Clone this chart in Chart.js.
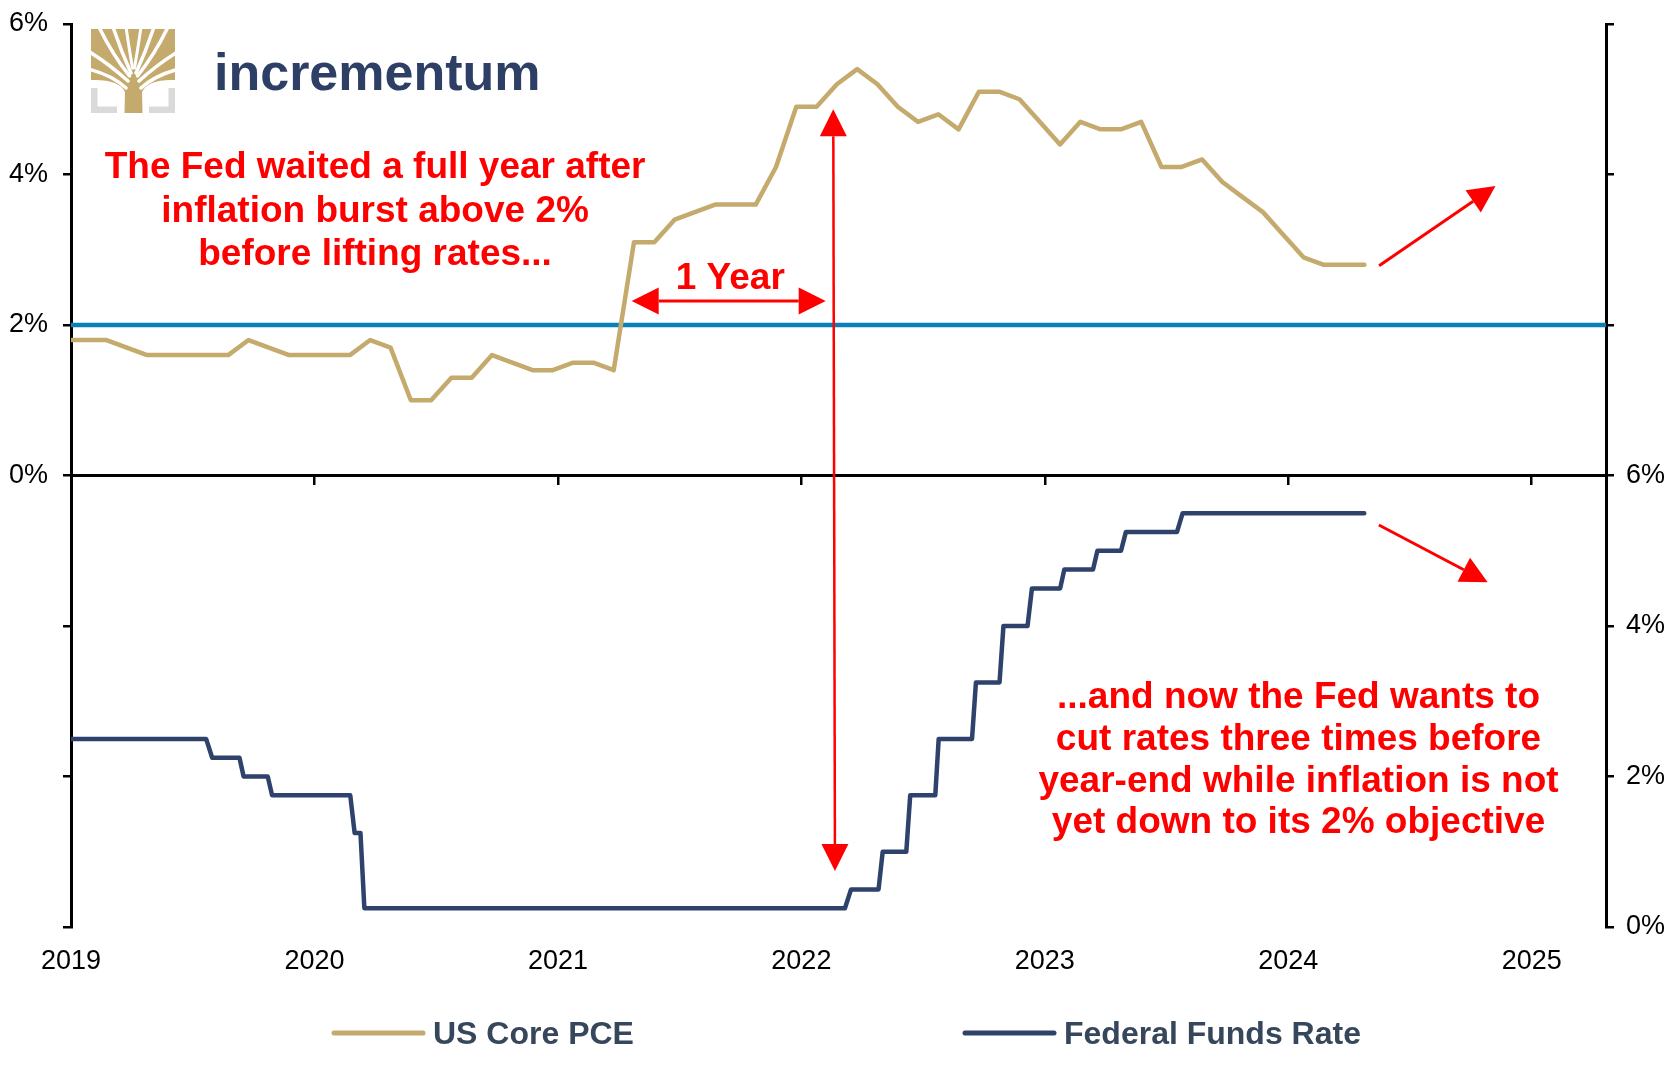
<!DOCTYPE html>
<html lang="en">
<head>
<meta charset="UTF-8">
<title>US Core PCE vs Federal Funds Rate</title>
<script src="https://cdn.jsdelivr.net/npm/chart.js"></script>
<style>
    html, body { margin: 0; padding: 0; background: #fff; }
    canvas { display: block; }
</style>
</head>
<body>
<canvas id="chart" width="1677" height="1066"></canvas>
<script>
    // ---- data ----
    const yearTicks = [2019, 2020, 2021, 2022, 2023, 2024, 2025];

    // US core PCE, y/y in %, monthly from Dec 2018 to Apr 2024
    const pceFirstMonth = [2018, 12];
    const pceValues = [
        1.8,
        1.8, 1.8, 1.7, 1.6, 1.6, 1.6, 1.6, 1.6, 1.8, 1.7, 1.6, 1.6,   // 2019
        1.6, 1.6, 1.8, 1.7, 1.0, 1.0, 1.3, 1.3, 1.6, 1.5, 1.4, 1.4,   // 2020
        1.5, 1.5, 1.4, 3.1, 3.1, 3.4, 3.5, 3.6, 3.6, 3.6, 4.1, 4.9,   // 2021
        4.9, 5.2, 5.4, 5.2, 4.9, 4.7, 4.8, 4.6, 5.1, 5.1, 5.0, 4.7,   // 2022
        4.4, 4.7, 4.6, 4.6, 4.7, 4.1, 4.1, 4.2, 3.9, 3.7, 3.5, 3.2,   // 2023
        2.9, 2.8, 2.8, 2.8                                            // 2024
    ];

    // Fed funds target (upper bound), in %, at the dates around each move (decimal years)
    const ffrTimes = [
        2019.000, 2019.555, 2019.580, 2019.692, 2019.709, 2019.808, 2019.826,
        2020.147, 2020.165, 2020.189, 2020.205,
        2022.179, 2022.204, 2022.317, 2022.334, 2022.431, 2022.447, 2022.550, 2022.564,
        2022.701, 2022.717, 2022.814, 2022.830, 2022.929, 2022.947,
        2023.063, 2023.080, 2023.198, 2023.216, 2023.313, 2023.333, 2023.543, 2023.566,
        2024.312
    ];
    const ffrValues = [
        2.5, 2.5, 2.25, 2.25, 2.0, 2.0, 1.75,
        1.75, 1.25, 1.25, 0.25,
        0.25, 0.5, 0.5, 1.0, 1.0, 1.75, 1.75, 2.5,
        2.5, 3.25, 3.25, 4.0, 4.0, 4.5,
        4.5, 4.75, 4.75, 5.0, 5.0, 5.25, 5.25, 5.5,
        5.5
    ];

    const targetRate = 2;
    const xMin = 2019, xMax = 2025.305;

    // monthly readings sit about three quarters into their month on the date axis
    const pcePoints = pceValues.map((v, i) => {
        const m = pceFirstMonth[1] - 1 + i;
        const year = pceFirstMonth[0] + Math.floor(m / 12);
        return { x: year + ((m % 12) + 0.75) / 12, y: v };
    });
    const ffrPoints = ffrTimes.map((t, i) => ({ x: t, y: ffrValues[i] }));

    // ---- styling ----
    const FONT = "'Liberation Sans', Arial, sans-serif";
    const GOLD = '#c4aa6c';
    const NAVY = '#2f426b';
    const BLUE = '#0b80b8';
    const RED = '#ff0000';

    Chart.defaults.font.family = FONT;
    Chart.defaults.color = '#000';

    // red call-outs, in data units (x: year, y: left axis %)
    const notes = [
        { text: 'The Fed waited a full year after', x: 2020.249, y: 3.95 },
        { text: 'inflation burst above 2%', x: 2020.249, y: 3.373 },
        { text: 'before lifting rates...', x: 2020.249, y: 2.797 },
        { text: '1 Year', x: 2021.708, y: 2.474 },
        { text: '...and now the Fed wants to', x: 2024.042, y: -3.094 },
        { text: 'cut rates three times before', x: 2024.042, y: -3.648 },
        { text: 'year-end while inflation is not', x: 2024.042, y: -4.202 },
        { text: 'yet down to its 2% objective', x: 2024.042, y: -4.755 }
    ];
    const arrows = [
        { from: [2021.303, 2.319], to: [2022.100, 2.319], both: true, width: 3 },
        { from: [2022.138, -5.256], to: [2022.131, 4.866], both: true, width: 2.5 },
        { from: [2024.373, 2.788], to: [2024.851, 3.847], both: false, width: 3 },
        { from: [2024.372, -0.658], to: [2024.819, -1.419], both: false, width: 3 }
    ];

    function head(ctx, x1, y1, x2, y2, len, half) {
        const a = Math.atan2(y2 - y1, x2 - x1);
        const bx = x2 - len * Math.cos(a), by = y2 - len * Math.sin(a);
        ctx.beginPath();
        ctx.moveTo(x2, y2);
        ctx.lineTo(bx + half * Math.sin(a), by - half * Math.cos(a));
        ctx.lineTo(bx - half * Math.sin(a), by + half * Math.cos(a));
        ctx.closePath();
        ctx.fill();
        return [bx, by];
    }

    const annotations = {
        id: 'annotations',
        afterDatasetsDraw(chart) {
            const { ctx, scales: { x, y } } = chart;
            ctx.save();
            ctx.fillStyle = RED;
            ctx.strokeStyle = RED;
            arrows.forEach(a => {
                const x1 = x.getPixelForValue(a.from[0]), y1 = y.getPixelForValue(a.from[1]);
                const x2 = x.getPixelForValue(a.to[0]), y2 = y.getPixelForValue(a.to[1]);
                const end = head(ctx, x1, y1, x2, y2, 27, 13.5);
                const start = a.both ? head(ctx, x2, y2, x1, y1, 27, 13.5) : [x1, y1];
                ctx.lineWidth = a.width;
                ctx.beginPath();
                ctx.moveTo(start[0], start[1]);
                ctx.lineTo(end[0], end[1]);
                ctx.stroke();
            });
            ctx.font = 'bold 37px ' + FONT;
            ctx.textAlign = 'center';
            ctx.textBaseline = 'alphabetic';
            notes.forEach(n => {
                ctx.fillText(n.text, x.getPixelForValue(n.x), y.getPixelForValue(n.y));
            });
            ctx.restore();
        }
    };

    // incrementum logo, top left
    const logo = {
        id: 'logo',
        afterDraw(chart) {
            const ctx = chart.ctx;
            ctx.save();
            ctx.fillStyle = '#dadada';
            ctx.fillRect(91, 88, 6.5, 25);
            ctx.fillRect(91, 106.5, 26, 6.5);
            ctx.fillRect(168.5, 88, 6.5, 25);
            ctx.fillRect(149, 106.5, 26, 6.5);

            // canopy and trunk
            ctx.fillStyle = GOLD;
            ctx.beginPath();
            ctx.moveTo(91, 29);
            ctx.lineTo(175, 29);
            ctx.lineTo(175, 80);
            ctx.quadraticCurveTo(148, 79, 142, 92);
            ctx.lineTo(142.5, 113);
            ctx.lineTo(124.5, 113);
            ctx.lineTo(125, 92);
            ctx.quadraticCurveTo(119, 79, 91, 80);
            ctx.closePath();
            ctx.fill();

            // white gaps between the branches
            ctx.beginPath();
            ctx.rect(91, 29, 84, 84);
            ctx.clip();
            ctx.strokeStyle = '#fff';
            ctx.lineCap = 'round';
            const gaps = [
                [126, 88, 112, 75, 88, 69, 3.5],
                [128, 81, 108, 63, 88, 51, 3.5],
                [129.5, 76, 112, 54, 99, 27, 3.5],
                [131, 73, 121, 51, 113, 27, 3.5],
                [132.5, 68, 129, 48, 126, 27, 3]
            ];
            gaps.forEach(g => {
                [1, -1].forEach(side => {
                    const mx = v => side === 1 ? v : 267 - v;
                    ctx.lineWidth = g[6];
                    ctx.beginPath();
                    ctx.moveTo(mx(g[0]), g[1]);
                    ctx.quadraticCurveTo(mx(g[2]), g[3], mx(g[4]), g[5]);
                    ctx.stroke();
                });
            });
            ctx.restore();

            ctx.save();
            ctx.fillStyle = '#2e3f66';
            ctx.font = 'bold 52px ' + FONT;
            ctx.textBaseline = 'alphabetic';
            ctx.fillText('incrementum', 214, 90);
            ctx.restore();
        }
    };

    // legend under the year labels
    const legendSpots = [
        { dataset: 0, x: 334, w: 89 },
        { dataset: 1, x: 965, w: 89 }
    ];
    const bottomLegend = {
        id: 'bottomLegend',
        afterDraw(chart) {
            const ctx = chart.ctx;
            ctx.save();
            ctx.font = 'bold 32px ' + FONT;
            ctx.fillStyle = '#37475b';
            ctx.textBaseline = 'alphabetic';
            legendSpots.forEach(s => {
                const ds = chart.data.datasets[s.dataset];
                ctx.strokeStyle = ds.borderColor;
                ctx.lineWidth = 5;
                ctx.lineCap = 'round';
                ctx.beginPath();
                ctx.moveTo(s.x, 1033);
                ctx.lineTo(s.x + s.w, 1033);
                ctx.stroke();
                ctx.fillText(ds.label, s.x + s.w + 10, 1044);
            });
            ctx.restore();
        }
    };

    const setYearTicks = s => { s.ticks = yearTicks.map(v => ({ value: v })); };
    // fixed axis sizes, so the plot area lines up with the reference frame
    const fixWidth = s => { s.width = 71; s.paddingTop = 0; s.paddingBottom = 0; };
    const fixHeight = s => { s.height = 139; s.paddingLeft = 0; s.paddingRight = 0; };
    const axisLine = { color: '#000', width: 3 };
    const tickMarks = { drawOnChartArea: false, drawTicks: true, tickLength: 8, color: '#000', lineWidth: 2.5 };

    new Chart(document.getElementById('chart'), {
        type: 'line',
        data: {
            datasets: [
                {
                    label: 'US Core PCE',
                    data: pcePoints,
                    borderColor: GOLD,
                    borderWidth: 4.5,
                    yAxisID: 'y'
                },
                {
                    label: 'Federal Funds Rate',
                    data: ffrPoints,
                    borderColor: NAVY,
                    borderWidth: 4.5,
                    yAxisID: 'y2'
                },
                {
                    label: '2% objective',
                    data: [{ x: xMin, y: targetRate }, { x: xMax, y: targetRate }],
                    borderColor: BLUE,
                    borderWidth: 4.5,
                    yAxisID: 'y'
                }
            ]
        },
        options: {
            responsive: false,
            animation: false,
            devicePixelRatio: 1,
            layout: { padding: { top: 24, left: 0, right: 0, bottom: 0 } },
            elements: {
                point: { radius: 0 },
                line: { tension: 0, borderCapStyle: 'round', borderJoinStyle: 'round', fill: false }
            },
            scales: {
                x: {
                    type: 'linear',
                    position: 'bottom',
                    min: xMin,
                    max: xMax,
                    afterBuildTicks: setYearTicks,
                    afterFit: fixHeight,
                    grid: { display: false },
                    border: { display: false },
                    ticks: {
                        font: { size: 27 },
                        padding: 10,
                        maxRotation: 0,
                        callback: v => String(v)
                    }
                },
                // the x axis line between the two panels
                xMid: {
                    type: 'linear',
                    position: { y: 0 },
                    min: xMin,
                    max: xMax,
                    afterBuildTicks: s => { s.ticks = yearTicks.slice(1).map(v => ({ value: v })); },
                    afterFit: s => { s.paddingLeft = 0; s.paddingRight = 0; },
                    grid: tickMarks,
                    border: axisLine,
                    ticks: { display: false }
                },
                y: {
                    position: 'left',
                    min: -6,
                    max: 6,
                    afterFit: fixWidth,
                    grid: tickMarks,
                    border: axisLine,
                    ticks: {
                        stepSize: 2,
                        padding: 15,
                        font: { size: 27 },
                        callback: v => v >= 0 ? v + '%' : ''
                    }
                },
                y2: {
                    position: 'right',
                    min: 0,
                    max: 12,
                    afterFit: fixWidth,
                    grid: tickMarks,
                    border: axisLine,
                    ticks: {
                        stepSize: 2,
                        padding: 12,
                        font: { size: 27 },
                        callback: v => v <= 6 ? v + '%' : ''
                    }
                }
            },
            plugins: {
                legend: { display: false },
                tooltip: { enabled: false }
            }
        },
        plugins: [annotations, logo, bottomLegend]
    });
</script>
</body>
</html>
